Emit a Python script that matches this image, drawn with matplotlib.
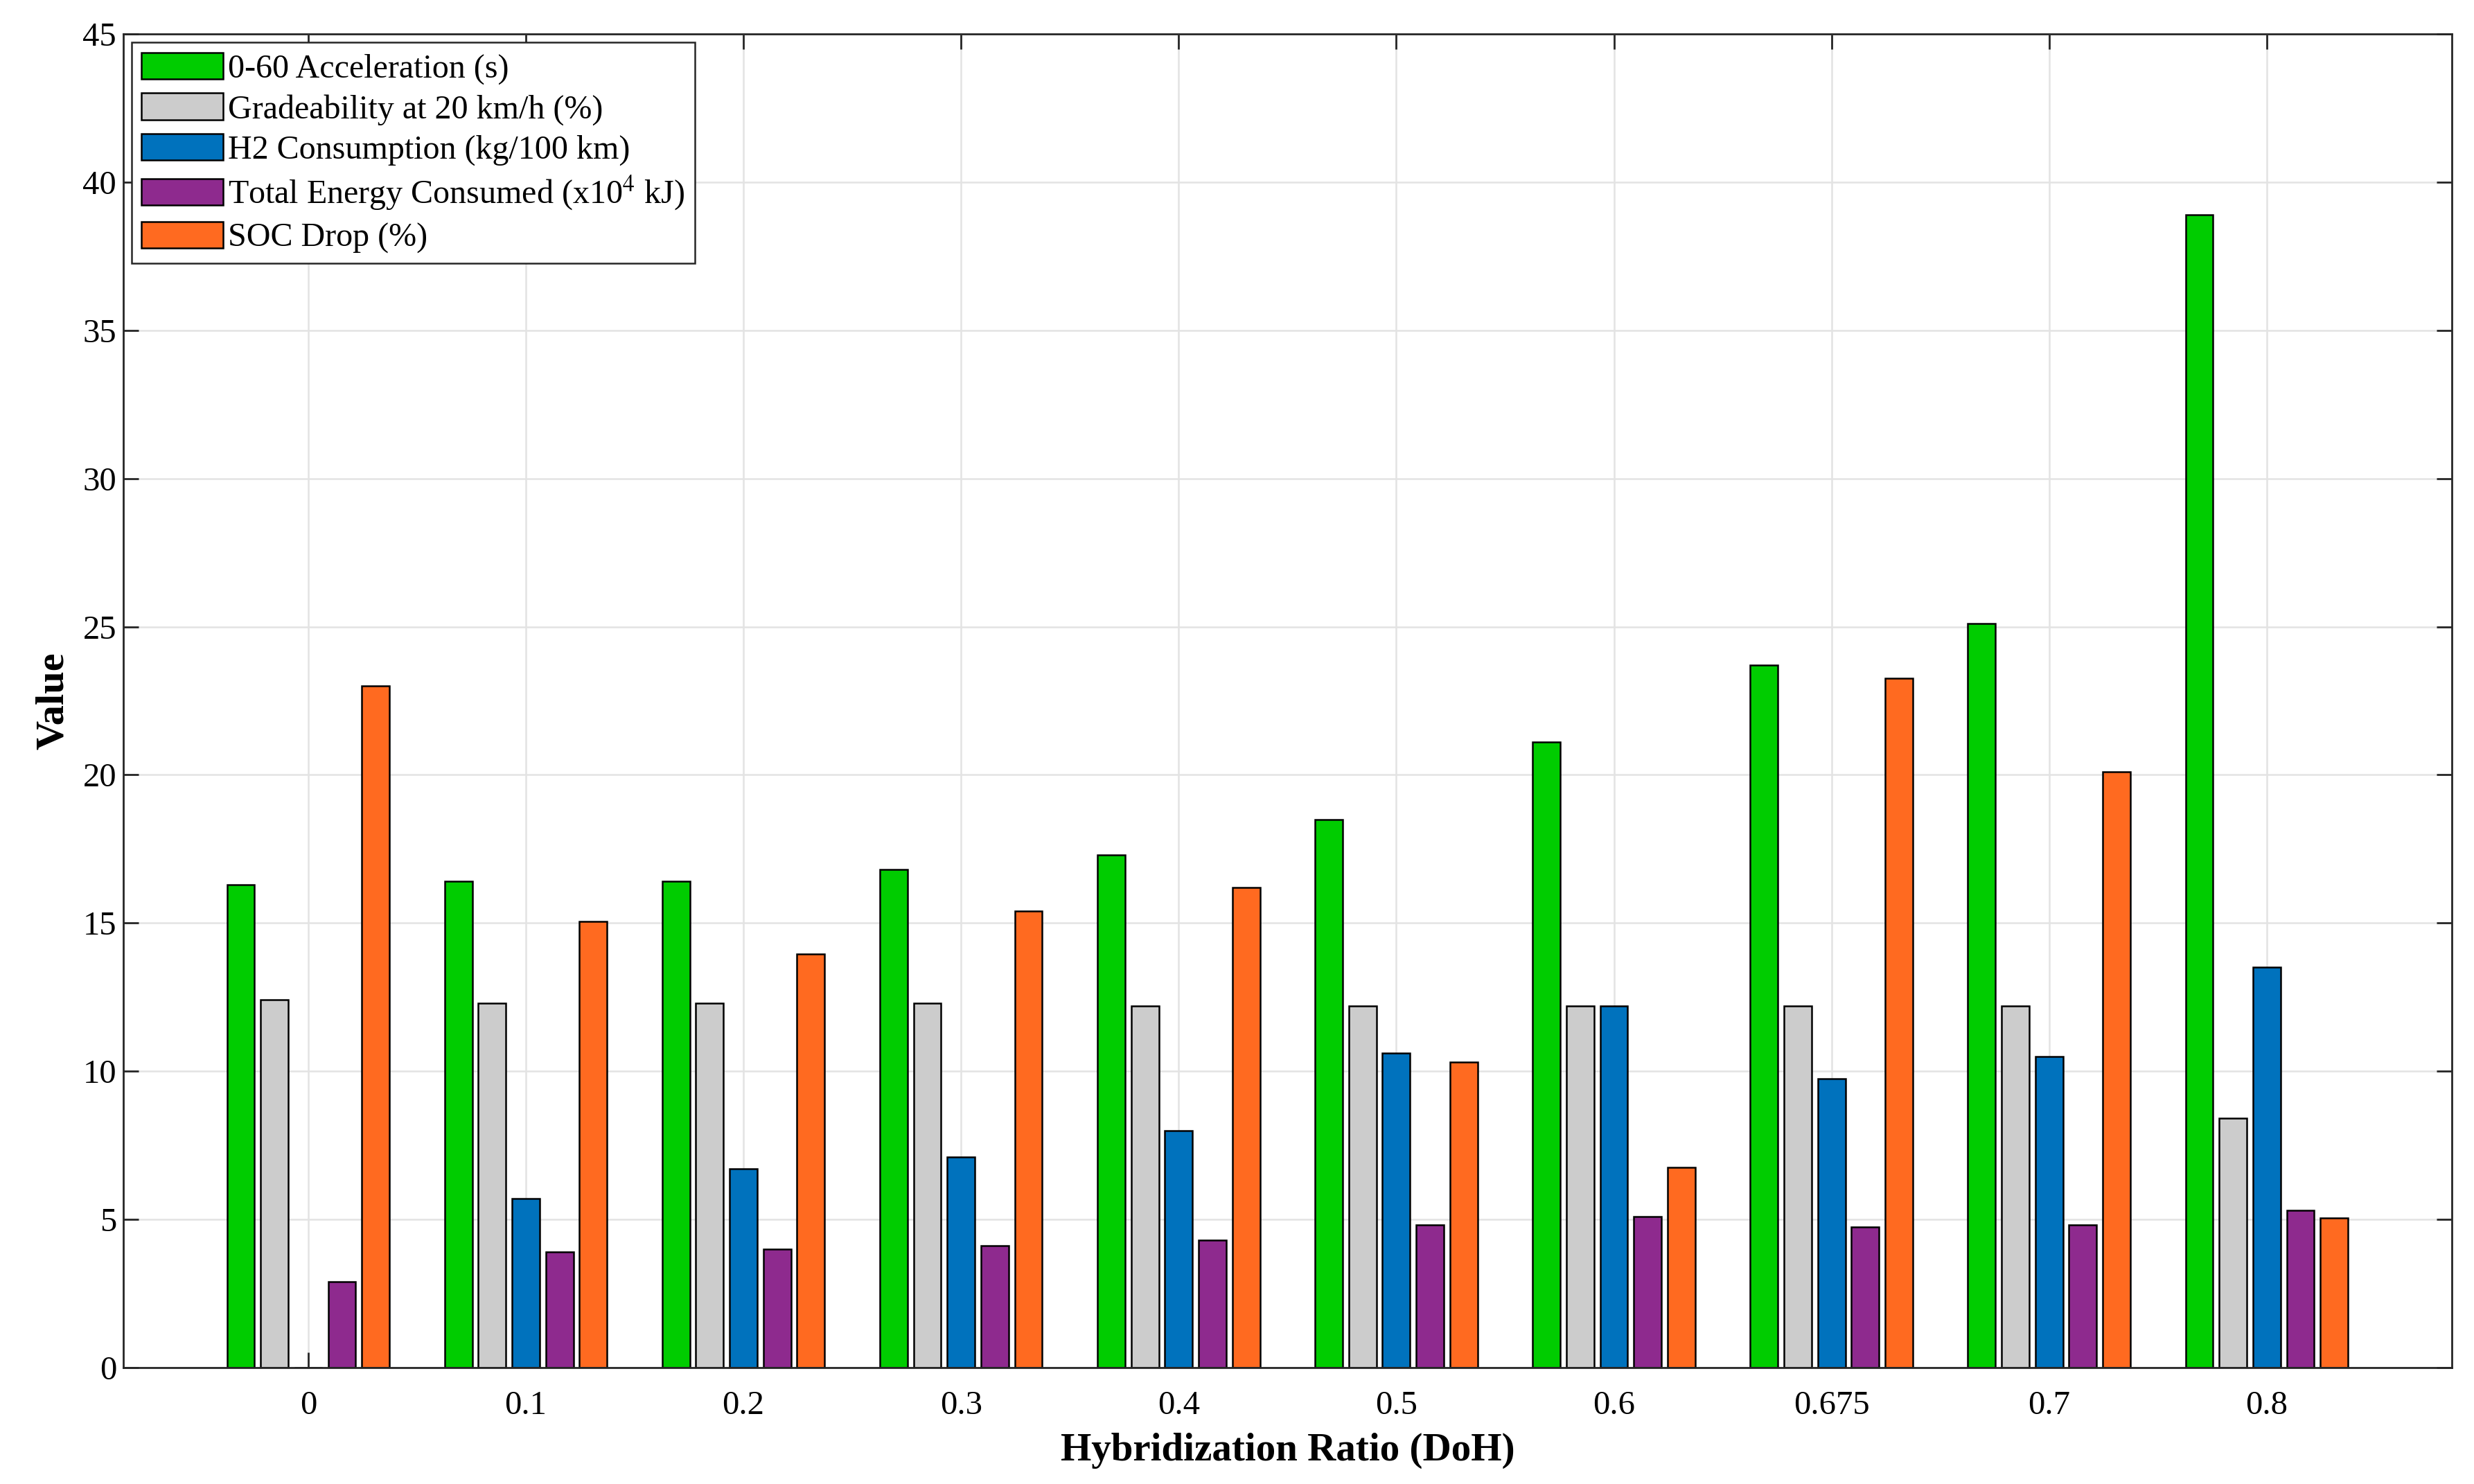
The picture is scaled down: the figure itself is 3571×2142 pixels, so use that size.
import matplotlib
matplotlib.use("Agg")
import matplotlib.pyplot as plt
import numpy as np

categories = ["0", "0.1", "0.2", "0.3", "0.4", "0.5", "0.6", "0.675", "0.7", "0.8"]
accel = [16.3, 16.4, 16.4, 16.8, 17.3, 18.5, 21.1, 23.7, 25.1, 38.9]
grade = [12.4, 12.3, 12.3, 12.3, 12.2, 12.2, 12.2, 12.2, 12.2, 8.4]
h2 = [0.0, 5.7, 6.7, 7.1, 8.0, 10.6, 12.2, 9.75, 10.5, 13.5]
energy = [2.9, 3.9, 4.0, 4.1, 4.3, 4.8, 5.1, 4.75, 4.8, 5.3]
soc = [23.0, 15.05, 13.95, 15.4, 16.2, 10.3, 6.75, 23.25, 20.1, 5.05]

series = [accel, grade, h2, energy, soc]
labels = ["0-60 Acceleration (s)", "Gradeability at 20 km/h (%)",
          "H2 Consumption (kg/100 km)", r"Total Energy Consumed (x10$^{4}$ kJ)",
          "SOC Drop (%)"]
colors = ["#00CC00", "#CCCCCC", "#0072BD", "#8E2A8E", "#FF6A20"]

plt.rcParams['font.family'] = ['Liberation Serif', 'DejaVu Serif']
plt.rcParams['mathtext.fontset'] = 'stix'

fig = plt.figure(figsize=(17.855, 10.71), dpi=200)
ax = fig.add_axes([0.0498, 0.0786, 0.9412, 0.8984])

x = np.arange(len(categories))
step = 0.155
width = 0.127
for i, (vals, lab, col) in enumerate(zip(series, labels, colors)):
    ax.bar(x + (i - 2) * step, vals, width=width, color=col, edgecolor='black',
           linewidth=0.9, label=lab, zorder=3)

ax.set_xlim(-0.85, 9.85)
ax.set_ylim(0, 45)
ax.set_yticks(np.arange(0, 46, 5))
ax.set_xticks(x)
ax.set_xticklabels(categories)
ax.grid(True, color='#E3E3E3', linewidth=0.9, zorder=0)
ax.set_axisbelow(True)
ax.tick_params(axis='both', direction='in', length=8, width=1.0, labelsize=17.5,
               top=True, right=True, colors='#262626', labelcolor='black', zorder=4)
ax.tick_params(axis='x', pad=12)
for s in ax.spines.values():
    s.set_color('#262626')
    s.set_linewidth(1.0)
    s.set_zorder(5)

ax.set_xlabel("Hybridization Ratio (DoH)", fontsize=20.5, fontweight='bold', labelpad=6)
ax.set_ylabel("Value", fontsize=21, fontweight='bold', labelpad=6)

leg = ax.legend(loc='upper left', fontsize=17.3, frameon=True, fancybox=False,
                edgecolor='#262626', framealpha=1, handlelength=2.45,
                handleheight=0.85, handletextpad=0.15, labelspacing=0.26,
                borderpad=0.3, borderaxespad=0.25)
leg.get_frame().set_linewidth(0.9)

fig.savefig("out.png", dpi=200)
